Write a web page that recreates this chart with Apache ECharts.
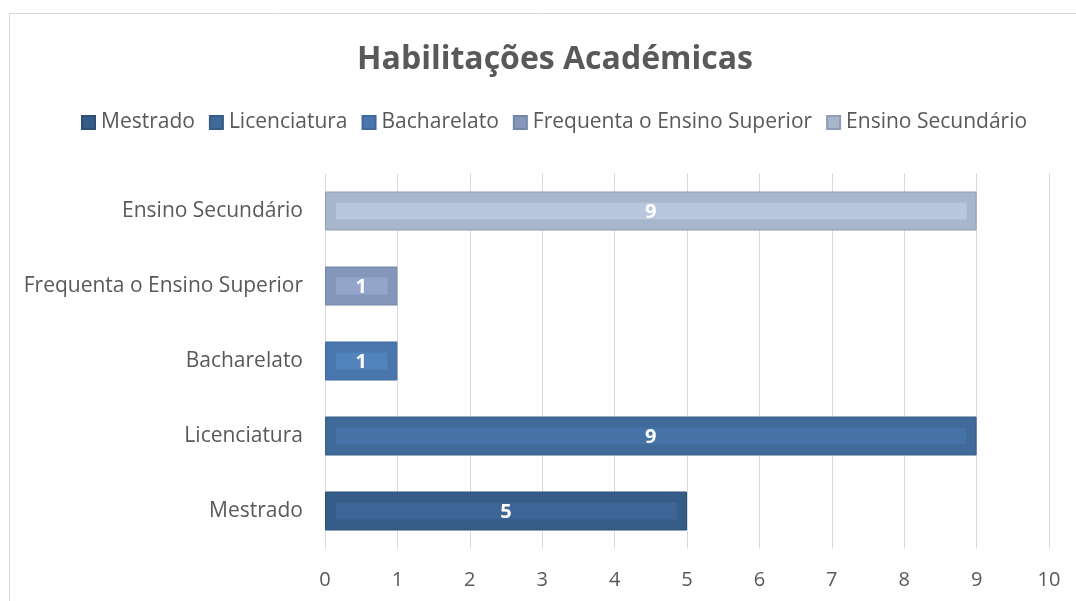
<!DOCTYPE html>
<html>
<head>
<meta charset="utf-8">
<script src="https://cdn.jsdelivr.net/npm/echarts@6/dist/echarts.min.js"></script>
<style>
  html, body { margin: 0; padding: 0; background: #fff; }
  #main { width: 1076px; height: 601px; }
</style>
</head>
<body>
<div id="main"></div>
<script>
// dados do gráfico
var categorias = ['Mestrado', 'Licenciatura', 'Bacharelato', 'Frequenta o Ensino Superior', 'Ensino Secundário'];
var valores = [5, 9, 1, 1, 9];
var marcasX = [0, 1, 2, 3, 4, 5, 6, 7, 8, 9, 10];

// cores (barra, faixa interior, contorno)
var coresBarra = ['#365c88', '#406a9a', '#4a76ae', '#8497bb', '#a8b6cc'];
var coresFaixa = ['#3d6595', '#4673a7', '#5283bb', '#93a6ca', '#b9c7de'];
var coresBorda = ['#2e4f76', '#365c88', '#3f68a0', '#7486a8', '#8f9cb3'];

var fonte = 'Open Sans';
var myChart = echarts.init(document.getElementById('main'));

var series = categorias.map(function (nome, i) {
    var d = categorias.map(function (c, j) { return j === i ? valores[i] : null; });
    return {
        name: nome,
        type: 'bar',
        stack: 'total',
        barWidth: 39,
        data: d,
        itemStyle: { color: coresBarra[i], borderColor: coresBorda[i], borderWidth: 1 },
        silent: true
    };
});

// faixa interior mais clara + rótulo
series.push({
    name: 'faixa',
    type: 'custom',
    z: 3,
    data: valores.map(function (v, i) { return [v, i]; }),
    renderItem: function (params, api) {
        var v = api.value(0), c = api.value(1);
        var s = api.coord([0, c]);
        var e = api.coord([v, c]);
        return {
            type: 'group',
            children: [{
                type: 'rect',
                shape: { x: s[0] + 11, y: s[1] - 8.5, width: e[0] - s[0] - 21, height: 17 },
                style: { fill: coresFaixa[c] }
            }, {
                type: 'text',
                style: {
                    text: String(v),
                    x: (s[0] + e[0]) / 2,
                    y: s[1] + 1,
                    align: 'center',
                    verticalAlign: 'middle',
                    fill: '#ffffff',
                    font: 'bold 20px ' + fonte
                }
            }]
        };
    }
});

option = {
    animation: false,
    textStyle: { fontFamily: fonte },
    title: {
        text: 'Habilitações Académicas',
        left: 550,
        textAlign: 'center',
        top: 39,
        textStyle: { color: '#595959', fontSize: 32, fontWeight: 'bold', fontFamily: fonte }
    },
    legend: {
        data: categorias,
        left: 81,
        top: 112,
        padding: 0,
        itemWidth: 13,
        itemHeight: 13,
        itemGap: 14,
        icon: 'rect',
        textStyle: { color: '#595959', fontSize: 21, fontFamily: fonte, padding: [0, 0, 0, 1] }
    },
    graphic: [{
        type: 'rect',
        shape: { x: 9.5, y: 13.5, width: 1100, height: 700 },
        style: { fill: null, stroke: '#d9d9d9', lineWidth: 1 },
        silent: true,
        z: -10
    }],
    grid: {
        left: 325,
        right: 27,
        top: 173.5,
        bottom: 52.5,
        containLabel: false
    },
    xAxis: {
        type: 'value',
        min: marcasX[0],
        max: marcasX[marcasX.length - 1],
        interval: 1,
        axisLine: { show: false },
        axisTick: { show: false },
        splitLine: { lineStyle: { color: '#d9d9d9', width: 1 } },
        axisLabel: { color: '#595959', fontSize: 20, margin: 22, fontFamily: fonte }
    },
    yAxis: {
        type: 'category',
        data: categorias,
        axisLine: { show: false },
        axisTick: { show: false },
        axisLabel: { color: '#595959', fontSize: 21, margin: 22, fontFamily: fonte }
    },
    series: series
};
myChart.setOption(option);
</script>
</body>
</html>
